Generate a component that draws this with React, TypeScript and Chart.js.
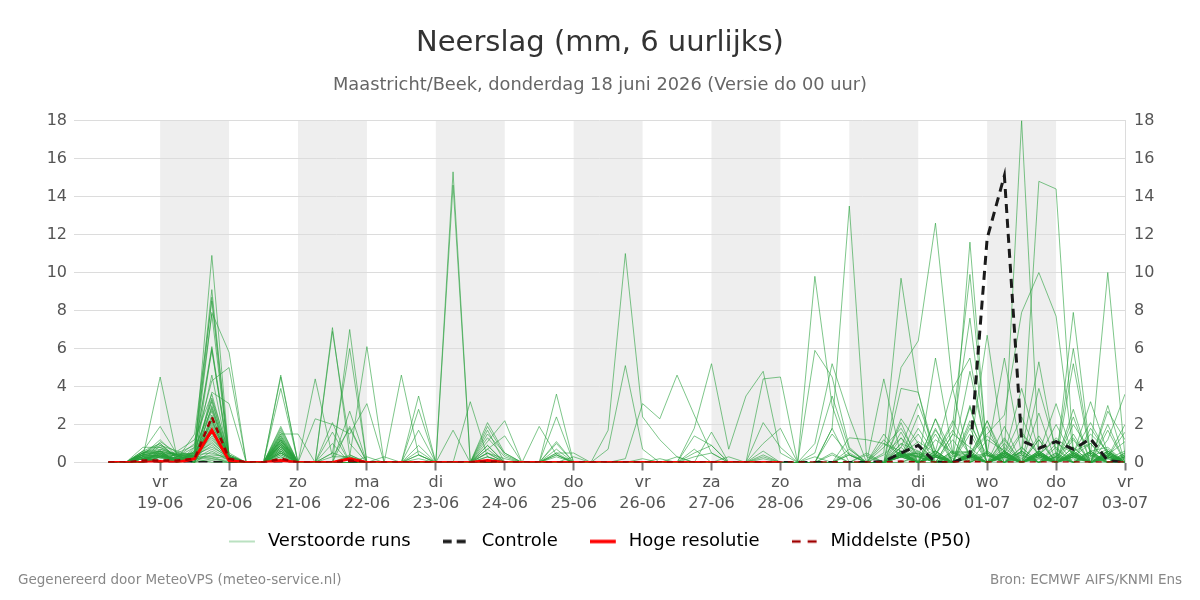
import React, { useEffect, useRef } from 'react';
import { Chart, registerables } from 'chart.js';

Chart.register(...registerables);

// 6-hourly steps, hours since 18-06 00:00 (first value valid 18-06 06:00)
const firstHour = 6;
const stepHours = 6;

const tickHours = [24, 48, 72, 96, 120, 144, 168, 192, 216, 240, 264, 288, 312, 336, 360];
const tickDays = ['vr', 'za', 'zo', 'ma', 'di', 'wo', 'do', 'vr', 'za', 'zo', 'ma', 'di', 'wo', 'do', 'vr'];
const tickDates = ['19-06', '20-06', '21-06', '22-06', '23-06', '24-06', '25-06', '26-06', '27-06', '28-06', '29-06', '30-06', '01-07', '02-07', '03-07'];
const shadedDayStarts = [24, 72, 120, 168, 216, 264, 312];

const controle = [0,0,0,0,0,0,0,0,0,0, 0,0,0,0,0,0,0,0,0,0, 0,0,0,0,0,0,0,0,0,0, 0,0,0,0,0,0,0,0,0,0, 0,0,0,0,0,0.05,0.5,0.9,0,0, 0.35,11.8,15.1,1.15,0.75,1.1,0.7,1.25,0.1,0];
const hogeResolutie = [0,0,0,0.05,0,0.2,1.7,0.1,0,0, 0.1,0,0,0,0.2,0,0,0,0,0, 0,0,0.1,0,0,0,0,0,0,0, 0,0,0,0,0,0,0,0,0,0];
const middelste = [0,0,0.1,0.1,0.1,0.2,2.4,0.2,0,0, 0.2,0,0,0,0.1,0,0,0,0,0, 0,0,0.05,0,0,0,0,0,0,0, 0,0,0,0,0,0,0,0,0,0, 0,0,0,0,0,0,0.05,0,0,0, 0.05,0,0,0,0,0,0,0,0,0];

const m01 = [0,0,0.3,4.5,0.2,0,2.2,0.1,0,0, 0.8,0,0,0.5,0.2,0,0,0,0,0, 0,0,0.5,0.2,0,0,0.4,0,0,0, 0,0.2,0,0,0.3,0.5,0,0,0.2,0, 0,0.3,0,0.7,0,0.4,1.3,0.4,0.6,0, 1.5,0,0.8,0,1.2,0,0.3,1.0,0,0.2];
const m02 = [0,0,0.6,1.9,0.4,0.5,10.9,0.3,0,0, 1.2,0,0,0,0.3,0,0,0,0.4,0, 0,0,0.9,0,0,0,1.0,0,0,0, 0,0,0,0,0.5,0.9,0,0,0,0, 0,0,1.5,0.4,0,0,2.3,1.0,0,1.2, 0,2.2,0,1.5,0.4,0,2.0,0.6,0,0];
const m03 = [0,0,0.4,1.2,0.3,0.8,9.1,0.2,0,0, 4.6,0,0,0.3,1.8,0,0,0,0,0, 0,0,0.3,0,0,0,0.5,0,0,0, 0,0,0,0.3,0,0,0,0,0.4,0, 0,0,0,0,0.5,0,0.8,3.1,0.6,0, 2.0,0.4,0,0.8,0,1.0,0.5,0,2.7,1.2];
const m04 = [0,0,0,1.1,0.5,0.4,8.7,0.4,0,0, 1.5,1.5,0,0,0,0,0,0,0,0, 0,0,1.5,0.5,0,0,0,0,0,0, 0,0,0,0,0,0,0,0,0.6,0, 0,0,0,0.4,0,1.0,0.4,0,2.3,0.5, 0,1.2,0.6,0,3.9,0.7,0,1.8,0.5,0];
const m05 = [0,0,0.5,1.0,0.2,1.5,8.5,0,0,0, 0.9,0,0,1.6,0,0.3,0,0,0,0, 0,0,0,0,0,0,1.1,0,0,0, 0,0,0.2,0,0,0,0,0,0,0, 0,0,0.5,0,0,0,1.0,0.6,0,0.3, 4.8,0.6,0,0,1.2,0,5.2,0.3,0.7,0];
const m06 = [0,0,0,0.9,0.6,0.3,7.9,5.8,0,0, 1.1,0,0,0,0.4,0,0,0,0,0, 0,0,0,0,0,0,0,0.3,0,0, 0,0,0,0,0,0,0.3,0,0,0, 0,0,0,0,0,0,0.4,1.5,0,1.5, 0.8,0,1.0,0,0.5,0,0.6,1.0,0,0.3];
const m07 = [0,0,0.8,0.8,0.3,1.0,7.8,0.2,0,0, 4.5,0,0,0,7.0,0,0,0,0,0, 0,0,0.7,0,0,0,0,0,0,0, 0,0,0,0,0.7,0,0,0,0,0, 0,0,1.8,0,0,0,0,0,0.4,0, 0.3,0,0,0.6,0,0.3,1.3,0,0.2,0.6];
const m08 = [0,0,0.6,0.6,0,0.6,6.1,0.3,0,0, 1.9,0,0,0,0,0,0,0,0,0, 14.6,0,1.9,0.4,0,0,0,0,0,0, 0,0,0,0,0,0,0,0,0,0, 0,0,0,0,0,0.8,1.8,0.3,0,0, 0.5,1.9,0,0.3,0,0.2,0,0.6,0.8,0];
const m09 = [0,0,0,0.7,0.4,0,6.0,0,0,0, 1.3,0,0,0,0,0,0,0,0,0, 0,0,0.5,0,0,1.9,0.4,0,0,0, 0,0,0,0,0,1.6,0,0,0,0, 0,0,0.4,0,0,0,3.9,3.7,0,0.3, 0.6,0,0.2,0,0.4,1.2,0,0,0.6,0];
const m10 = [0,0,0.5,0.5,0,0.7,5.9,0.2,0,0, 0.8,0,0,0,0,0,0,0,0,0, 0,0,1.3,0.3,0,0,0,0,0,0, 0,0,0,0,0,0,0,0,0,0, 0,0,0,0,0,0,0.5,0,1.7,0.4, 11.6,0.4,0,0.6,0,0.8,0,0.4,0,0.2];
const m11 = [0,0,0,0.4,0.2,0.4,4.6,0.1,0,0, 1.0,0,4.4,0.3,0.3,0,0,0,0.2,0, 0,0,0,0,0,0,0.3,0,0,0, 0,0,0,0,0,0,0,0,0.3,0, 0,0,0,0,0.4,0,0,0.4,0,0, 0.4,0,1.2,0,0.2,0,0.8,0,0,0.4];
const m12 = [0,0,0.2,0,0.5,0.9,4.3,5.0,0,0, 0.5,0,0,0,0,0,0,0,0,0, 0,0,0,0,0,0,0,0,0,0, 0,0,0,0,0,0,0,0,0,0, 0,0,0,0,0,0,0.3,0.6,0,0, 0.4,0,0.6,0,0.5,0,0.3,0.5,0,0];
const m13 = [0,0,0.5,0.9,0.3,0,3.7,3.1,0,0, 3.9,0,0,0,0,0,0,0,0,0, 0,0,0,0,0,0,0,0,0,0, 0,0,0,0,0,0,0,0,0,0, 0,9.8,3.0,0.4,0,1.5,0.3,0,0.3,0, 0,0.5,0,0.8,0,0.5,0,0.2,0,0.3];
const m14 = [0,0,0,0.3,0.6,1.2,3.6,0.3,0,0, 1.7,0,0,2.1,0,0,0,0,2.8,0, 0,0,0,0,0,0,0,0,0,0, 0,0,0,0,0,0,0,0,0,0, 0,5.9,4.5,0.8,0,0,0.6,0.3,0,0, 0.2,0,0.5,0,0.4,0,1.5,0,0.3,2.0];
const m15 = [0,0,0.4,0.6,0,0.5,3.4,0.5,0,0, 1.4,0,0,0,1.9,0,0,0,0,0, 15.3,0,0,0,0,0,0,0,0,0, 0,0,0,0,0,0,0,0,0,0, 0,1.0,5.2,2.4,0,0,0.4,0,0,0.6, 0,0.4,0,0.6,0,0.3,0,0.6,0,0];
const m16 = [0,0,0,0.5,0.4,0.3,3.3,0.2,0,0, 1.2,0,0,0,0,0,0,0,0,0, 0,0,2.1,0.5,0,0,3.6,0,0,0, 0,0,0,0,0,0,0,0,0,0, 0,0,1.8,13.5,0.3,0,0.5,0,0,0, 0.3,0,0.3,0,0.2,0,0.8,0,0.6,0];
const m17 = [0,0,0.2,0.4,0,0.6,3.2,0.2,0,0, 0.9,0,0,0,2.7,0,0,0,0,0, 0,3.2,0.3,0,0,0,0,0,0,0, 0,0,0,0,0,0,0,0,0,0, 0,0,0,0.4,0,4.4,0.3,0.5,0,0, 0.5,0,0.4,0,0.4,0,0.5,0,0.2,0];
const m18 = [0,0,0.6,1.0,0.2,0,3.0,0.1,0,0, 1.6,0,0,0,0,0,0,0,0,0, 0,0,1.7,0,0,0,0,0,0,1.7, 11.0,2.4,1.2,0.3,0,0,0,0,0,0, 0,0,0,0,0,0.5,9.7,3.7,0.4,0, 0.4,0,0.5,0,0.6,0,0.4,0,0.3,0];
const m19 = [0,0,0.3,0,0.5,0.3,2.9,0.3,0,0, 1.5,0,0,0,0,0,0,0,0,0, 0,0,0,0,0,0,0,0,0,0.7, 5.1,0.7,0,0,0,0,0,0,0,0, 0,0,0,0,0,0,5.0,6.4,12.6,3.9, 0,0.6,0,0.4,0,0.5,0,0.3,0,0.3];
const m20 = [0,0,0.4,0.6,0,0.8,2.8,0.2,0,0, 1.1,0,0,0,0,0,0,0,0,0, 0,0,0,0,0,0,0,0,0,0, 0.2,3.1,2.3,4.6,2.5,0.5,0,0,0,0, 0,0,0,0,0,0,1.3,0,0.3,0, 0.3,0,0.4,0,0.4,0,0.6,0,0.4,0];
const m21 = [0,0,0,0.3,0.2,0.4,2.7,0.3,0,0, 0.7,0,0,0,0,0,0,0,0,0, 0,0,0,0,0,0,0,0,0,0, 0,0,0,0,1.8,5.2,0.7,3.5,4.8,0.5, 0,0,0,0.5,0,0,0.4,0,1.2,0.5, 0.2,0,0.3,0,0.3,0,0.2,0,0.3,0];
const m22 = [0,0,0.5,0.8,0.4,0,2.5,0.2,0,0, 1.3,0,0,0,0,0,0,0,0,0, 0,0,0,0,0,0,0,0,0,0, 0,0,0,0,0,0,0,0,4.4,4.5, 0,0,0,0,0,0,1.0,0,5.5,0.5, 0.4,0,0.6,0,0.5,0,0.3,0,0.3,0];
const m23 = [0,0,0.3,0,0.3,0.3,2.4,0.4,0,0, 1.0,0,0,0,0,0,0,0,0,0, 0,0,0,0,0,0,0,0,0,0, 0,0,0,0,0,0,0,0,0,0, 0,0,0,0,0,0,0,0.3,0.4,2.0, 9.9,0.5,0,0.4,0,0.4,0,0.5,0,0.3];
const m24 = [0,0,0.4,0.4,0.5,0,2.3,0.2,0,0, 0.6,0,0,0,0,0,0,0,0,0, 0,0,0,0,0,0,0,0,0,0, 0,0,0,0,0,0,0,0,0,0, 0,0,0,0,0,0,0.3,0.5,0,1.5, 7.6,0.3,0.5,0,0.4,0,0.3,0,0.3,0];
const m25 = [0,0,0,0.6,0.3,0.5,2.2,0.3,0,0, 0.5,0,0,0,0,0,0,0,0,0, 0,0,0,0,0,0,0,0,0,0, 0,0,0,0,0,0,0,0,0,0, 0,0,0,0,0,0,0.4,0,0.6,3.9, 5.5,0.4,0,0.2,0,0.3,0,0.6,0,0.5];
const m26 = [0,0,0.2,0.4,0,0.3,2.1,0.3,0,0, 1.8,0,0,0,0,0,0,0,0,0, 0,0,0,0,0,0,0,0,0,0, 0,0,0,0,0,0,0,0,0,0, 0,0,0,0,0,0,0.5,0.3,0,0.5, 0.6,6.7,0.5,0,0.4,0,0.5,0,0.4,0];
const m27 = [0,0,0.5,0.7,0.4,0,2.0,0.2,0,0, 0.9,0,0,0,0,0,0,0,0,0, 0,0,0,0,0,0,0,0,0,0, 0,0,0,0,0,0,0,0,0,0, 0,0,0,0,0,0,0.6,0,0.3,0, 0.3,0.5,5.5,0.4,0,0.3,0,0.4,0,0.5];
const m28 = [0,0,0.3,0,0.3,0.2,1.9,0.4,0,0, 1.2,0,0,0,0,0,0,0,0,0, 0,0,0,0,0,0,0,0,0,0, 0,0,0,0,0,0,0,0,0,0, 0,0,0,0,0,0,0.3,0,0.4,0, 0.4,0,0.6,18.0,0.5,0,0.4,0,0.2,0];
const m29 = [0,0,0.4,0.3,0,0.5,1.8,0.2,0,0, 0.7,0,0,0,0,0,0,0,0,0, 0,0,0,0,0,0,0,0,0,0, 0,0,0,0,0,0,0,0,0,0, 0,0,0,0,0,0,0.4,0.3,0,0.6, 0.5,1.5,2.5,7.9,10.0,7.7,0.5,0,0.4,0];
const m30 = [0,0,0,0.6,0.4,0.3,1.7,0.3,0,0, 1.4,0,0,0,0,0,0,0,0,0, 0,0,0,0,0,0,0,0,0,0, 0,0,0,0,0,0,0,0,0,0, 0,0,0,0,0,0,0.5,0,0.4,0, 0.4,0,0.3,0.5,14.8,14.4,0.6,0,0.3,0];
const m31 = [0,0,0.3,0.4,0.2,0,1.6,0.2,0,0, 0.6,0,0,0,0,0,0,0,0,0, 0,0,0,0,0,0,0,0,0,0, 0,0,0,0,0,0,0,0,0,0, 0,0,0,0,0,0,0.4,0.5,0,0.4, 0,0.5,0,0.6,5.3,0.4,0,0.5,0,0.3];
const m32 = [0,0,0.5,0.5,0,0.6,1.5,0.3,0,0, 1.0,0,0,0,0,0,0,0,0,0, 0,0,0,0,0,0,0,0,0,0, 0,0,0,0,0,0,0,0,0,0, 0,0,0,0,0,0,0.6,0,0.3,0, 0.4,0,0.5,0,0.6,0,7.9,0.4,0,0.4];
const m33 = [0,0,0,0.3,0.4,0.3,1.4,0.2,0,0, 0.8,0,0,0,0,0,0,0,0,0, 0,0,0,0,0,0,0,0,0,0, 0,0,0,0,0,0,0,0,0,0, 0,0,0,0,0,0,0.3,0.4,0,0.2, 0,0.4,0,0.5,0,0.3,6.0,0.4,10.0,0.3];
const m34 = [0,0,0.2,0.5,0,0.4,1.3,0.2,0,0, 0.9,0,0,7.1,0.4,0,0,0,0,0, 0,0,0,0,0,0,0,0,0,0, 0,0,0,0,0,0,0,0,0,0, 0,0,0,0,0,0,0.8,0,0.5,0, 0.3,0,0.5,0,0.4,0,0.5,0,1.2,3.6];
const m35 = [0,0,0.4,0,0.2,0.3,1.2,0.3,0,0, 0.5,0,0,6.9,1.0,0,0,0,0,0, 0,0,0,0,0,0,0,0,0,0, 0,0,0,0,0,0,0,0,2.1,0.8, 0,0,0,0,0,0,0.4,0,0.3,0, 0.6,0,0.4,0,0.3,0,0.4,0,0.5,0];
const m36 = [0,0,0.3,0.6,0,0.2,1.1,0.2,0,0, 1.1,0,0,0.5,6.0,0,0,0,0,0, 0,0,0,0,0,0,0,0,0,0, 0,0,0,0,0,0,0,0,1.0,1.8, 0,0,0,0,0,0,0.5,0,0.6,0, 0.4,0,0.3,0,0.5,0,0.3,0,0.6,0];
const m37 = [0,0,0,0.3,0.4,0.5,1.0,0.3,0,0, 0.4,0,0,0,0.3,6.1,0,0,0,0, 0,0,0,0,0,0,0,0,0,0, 0,0,0,0,1.4,0.9,0,0,0,0, 0,0.5,3.5,0.7,0,0,0.6,0,0.3,0, 0.3,0,0.6,0,0.5,0,0.3,0,0.4,0];
const m38 = [0,0,0.4,0.5,0,0.3,0.9,0.2,0,0, 0.6,0,2.3,2.0,1.5,3.1,0,0,0,0, 0,0,0,0,0,0,0,0,0,0, 0,0,0,0,0,0,0,0,0,0, 0,0,0,1.3,1.2,1.0,0.6,0,1.8,0, 2.9,0,0.3,0,0.6,0,0.4,0,0.5,0];
const m39 = [0,0,0.3,0,0.2,0.4,0.8,0.3,0,0, 1.2,0,0,0,0,0,0,4.6,0.4,0, 0,0,0,0,0,0,0,0,0,0, 0,0,0,0,0,0,0,0,0,0, 0,0,0,0,0,0,0.3,0,0.4,0, 0.5,0,0.4,3.9,0.6,0,0.5,0,0.3,0];
const m40 = [0,0,0.2,0.3,0,0.2,0.7,0.2,0,0, 0.8,0,0,0,0,0,0.3,0,3.5,0, 0,0,0,0,0,0,0,0,0,0, 0,0,0,0,0,0,0,0,0,0, 0,0,0,0,0,0,0.4,0,0.6,0, 0.3,0,0.3,0,0.5,3.1,0.3,0,0.6,0];
const m41 = [0,0,0.5,0.6,0.4,0,0.6,0.1,0,0, 1.0,0,0,0,0,0,0,0,1.7,0, 1.7,0,0,0,0,0,0,0,0,0, 0,0,0,0,0,0,0,0,0,0, 0,0,0,0,0,0,0.6,0,0.3,0, 0.4,0,0.5,0,0.4,0,0.4,3.2,0.5,0];
const m42 = [0,0,0,0.5,0.2,0.4,0.5,0.2,0,0, 0.5,0,0,0,0,0,0,0,0.9,0, 0,0,1.1,2.2,0,0,0,0,0,0, 0,0,0,0,0,0,0,0,0,0, 0,0,0,0,0,0,0.5,0,0.4,0, 0.5,0,0.3,0,0.3,0,0.5,0,3.0,0];
const m43 = [0,0,0.4,0.3,0,0.2,0.4,0.3,0,0, 0.9,0,0,0,0,0,0,0,0,0, 0,0,0.9,0,0,0,2.4,0,0,0, 0,0,0,0,0,0,0,0,0,0, 0,0,0,0,0,0,0.4,0,0.3,0, 0.3,0,0.4,0,0.6,0,0.4,0,0.3,0];
const m44 = [0,0,0.2,0,0.2,0.3,0.3,0.2,0,0, 0.7,0,0,1.0,0,0,0,0,0,0, 0,0,0.7,1.4,0,0,0.7,0,0,0, 0,0,0,0,0,0,0,0,0,0, 0,0,0,0,0,0,0.3,1.8,0.4,2.2, 0.4,1.4,0.6,0,0.3,2.0,0.3,1.5,0.6,0];
const m45 = [0,0,0.3,0.4,0,0.2,0.2,0.1,0,0, 0.6,0,0,0,0,0,0,0,0,0, 0,0,0.5,0,0,0,0.5,0.5,0,0, 0,0,0,0,0,0,0,0,0,0, 0,0,0,0,0,0,2.1,0,0.4,0, 3.0,0,0.3,1.6,0.4,0,2.4,0,0.4,1.1];
const m46 = [0,0,0.2,0.3,0.2,0,0.1,0,0,0, 0.5,0,0,0,0,0,0,0,0.6,0, 0,0,0.3,0,0,0,0.4,0,0,0, 0,0,0,0,0,0,0,0,0,0, 0,0,0,0,0,0,0.4,0,2.3,0, 0.5,0,1.9,0,2.6,0,0.3,0,1.7,0];
const m47 = [0,0,0,0.2,0.3,0.2,0,0,0,0, 0.4,0,0,0,0,0,0,0,0.4,0, 0,0,0,0,0,0,0,0,0,0, 0,0,0,0,0,0,0,0,0,0, 0,0,0,0,0,1.2,0.3,2.5,0.3,0, 2.2,0,0.5,0,0.4,1.3,0.5,2.1,0.4,0];
const m48 = [0,0,0.2,0.4,0,0.1,0,0,0,0, 0.3,0,0,0,0,0,0,0,0,0, 0,0,0,0,0,0,0,0,0,0, 0,0,0,0,0,0,0,0,0,0, 0,0,0,0,0,0,1.6,0,0.4,1.7, 0.4,0,0.4,2.4,0.3,0,1.2,0,0.3,1.6];
const m49 = [0,0,0,0.3,0.2,0,0.2,0,0,0, 0.2,0,0,0,0,0,0,0,0,0, 0,0,0,0,0,0,0,0,0,0, 0,0,0,0,0,0,0,0,0,0, 0,0,0,0,0,0,0.3,0,1.5,0, 0.3,2.2,0.3,0,1.4,0,0.4,0,2.0,0];
const m50 = [0,0,0.2,0,0.3,0.2,0.3,0,0,0, 0.3,0,0,0,0,0,0,0,0,0, 0,0,0,0,0,0,0,0,0,0, 0,0,0,0,0,0,0,0,0,0, 0,0,0,0,0,0,0.4,1.1,0.5,0, 1.8,0,1.3,0,0.4,0,2.8,0,0.5,0];

const members = [m01, m02, m03, m04, m05, m06, m07, m08, m09, m10, m11, m12, m13, m14, m15, m16, m17, m18, m19, m20,
  m21, m22, m23, m24, m25, m26, m27, m28, m29, m30, m31, m32, m33, m34, m35, m36, m37, m38, m39, m40,
  m41, m42, m43, m44, m45, m46, m47, m48, m49, m50];

const titleText = 'Neerslag (mm, 6 uurlijks)';
const subtitleText = 'Maastricht/Beek, donderdag 18 juni 2026 (Versie do 00 uur)';
const footerLeft = 'Gegenereerd door MeteoVPS (meteo-service.nl)';
const footerRight = 'Bron: ECMWF AIFS/KNMI Ens';

const memberColor = 'rgba(40,160,60,0.6)';
const legendColor = 'rgba(70,175,90,0.75)';

const toPoints = (arr: (number | null)[]) => arr.map((v, i) => ({ x: firstHour + i * stepHours, y: v }));

// small line sample used as legend symbol (line on the left, gap to the right)
function lineSample(color: string, width: number, dash: number[]) {
  const c = document.createElement('canvas');
  c.width = 30;
  c.height = 10;
  const g = c.getContext('2d');
  if (g) {
    g.strokeStyle = color;
    g.lineWidth = width;
    g.setLineDash(dash);
    g.beginPath();
    g.moveTo(0, 5);
    g.lineTo(26, 5);
    g.stroke();
  }
  return c;
}

const shadePlugin = {
  id: 'dayShade',
  beforeDraw(chart: any) {
    const { ctx, chartArea, scales } = chart;
    const x = scales.x;
    ctx.save();
    ctx.fillStyle = '#eeeeee';
    for (const s of shadedDayStarts) {
      const x0 = x.getPixelForValue(s);
      const x1 = x.getPixelForValue(s + 24);
      ctx.fillRect(x0, chartArea.top, x1 - x0, chartArea.bottom - chartArea.top);
    }
    ctx.restore();
  },
};

const legendNudge = {
  id: 'legendNudge',
  afterLayout(chart: any) {
    const lg = chart.legend;
    if (lg) {
      lg.top -= 22.5;
      lg.bottom -= 22.5;
    }
  },
};

const footerPlugin = {
  id: 'footerText',
  afterDraw(chart: any) {
    const { ctx, width } = chart;
    ctx.save();
    ctx.font = "13.5px 'DejaVu Sans', sans-serif";
    ctx.fillStyle = '#888888';
    ctx.textBaseline = 'middle';
    ctx.textAlign = 'left';
    ctx.fillText(footerLeft, 18, 580);
    ctx.textAlign = 'right';
    ctx.fillText(footerRight, width - 18, 580);
    ctx.restore();
  },
};

export default function App() {
  const ref = useRef<HTMLCanvasElement | null>(null);
  useEffect(() => {
    document.body.style.margin = '0';
    if (!ref.current) return;
    Chart.defaults.font.family = "'DejaVu Sans', sans-serif";
    const datasets: any[] = [
      { label: 'Middelste (P50)', data: toPoints(middelste), borderColor: '#a00000', borderWidth: 2.5, borderDash: [6, 5], pointRadius: 0, fill: false },
      { label: 'Hoge resolutie', data: toPoints(hogeResolutie), borderColor: '#ff0000', borderWidth: 3, pointRadius: 0, fill: false },
      { label: 'Controle', data: toPoints(controle), borderColor: '#1a1a1a', borderWidth: 3, borderDash: [9, 6], pointRadius: 0, fill: false },
      ...members.map((m) => ({ label: 'Verstoorde runs', data: toPoints(m), borderColor: memberColor, borderWidth: 1, pointRadius: 0, fill: false })),
    ];
    const legendItems = [
      { text: 'Verstoorde runs', pointStyle: lineSample(legendColor, 1, []), strokeStyle: legendColor, fillStyle: legendColor, lineWidth: 1, hidden: false, datasetIndex: 3 },
      { text: 'Controle', pointStyle: lineSample('#1a1a1a', 3.5, [9, 5]), strokeStyle: '#1a1a1a', fillStyle: '#1a1a1a', lineWidth: 3.5, hidden: false, datasetIndex: 2 },
      { text: 'Hoge resolutie', pointStyle: lineSample('#ff0000', 3.5, []), strokeStyle: '#ff0000', fillStyle: '#ff0000', lineWidth: 3.5, hidden: false, datasetIndex: 1 },
      { text: 'Middelste (P50)', pointStyle: lineSample('#a00000', 2.5, [9, 7]), strokeStyle: '#a00000', fillStyle: '#a00000', lineWidth: 2.5, hidden: false, datasetIndex: 0 },
    ];
    const yTicks = { stepSize: 2, color: '#555555', font: { size: 16 } };
    const chart = new Chart(ref.current, {
      type: 'line',
      data: { datasets },
      plugins: [shadePlugin, legendNudge, footerPlugin],
      options: {
        animation: false,
        responsive: false,
        devicePixelRatio: 1,
        layout: { padding: { left: 0, right: 0, top: 0, bottom: 17 } },
        elements: { line: { tension: 0 } },
        plugins: {
          tooltip: { enabled: false },
          title: { display: true, text: titleText, color: '#333333', font: { size: 29, weight: 'normal' }, padding: { top: 25.6, bottom: 10 } },
          subtitle: { display: true, text: subtitleText, color: '#666666', font: { size: 17.8, weight: 'normal' }, padding: { top: 3.9, bottom: 24.9 } },
          legend: {
            position: 'bottom',
            labels: {
              usePointStyle: true,
              pointStyleWidth: 30,
              padding: 32,
              color: '#000000',
              font: { size: 18 },
              generateLabels: () => legendItems as any,
            },
          },
        },
        scales: {
          x: {
            type: 'linear',
            min: -6,
            max: 360,
            afterBuildTicks: (s: any) => { s.ticks = tickHours.map((v) => ({ value: v })); },
            afterFit: (s: any) => { s.height = 60.5; },
            grid: { display: true, drawOnChartArea: false, drawTicks: true, tickLength: 8, tickColor: '#777777', tickWidth: 2 },
            border: { display: false },
            ticks: {
              autoSkip: false,
              maxRotation: 0,
              padding: 2,
              color: '#555555',
              font: { size: 16, lineHeight: 1.3 },
              callback: (v: any) => {
                const i = tickHours.indexOf(Number(v));
                return i >= 0 ? [tickDays[i], tickDates[i]] : '';
              },
            },
          },
          y: {
            position: 'left',
            min: 0,
            max: 18,
            afterFit: (s: any) => { s.width = 74; },
            ticks: { ...yTicks, padding: 7 },
            grid: { color: '#dcdcdc', drawTicks: false },
            border: { display: false },
          },
          y2: {
            position: 'right',
            min: 0,
            max: 18,
            afterFit: (s: any) => { s.width = 75; },
            ticks: { ...yTicks, padding: 9 },
            grid: { display: false, drawTicks: false },
            border: { display: true, color: '#dcdcdc' },
          },
        },
      } as any,
    });
    return () => chart.destroy();
  }, []);
  return (
    <div style={{ width: 1200, height: 600, position: 'relative' }}>
      <canvas ref={ref} width={1200} height={600} style={{ display: 'block' }} />
    </div>
  );
}
